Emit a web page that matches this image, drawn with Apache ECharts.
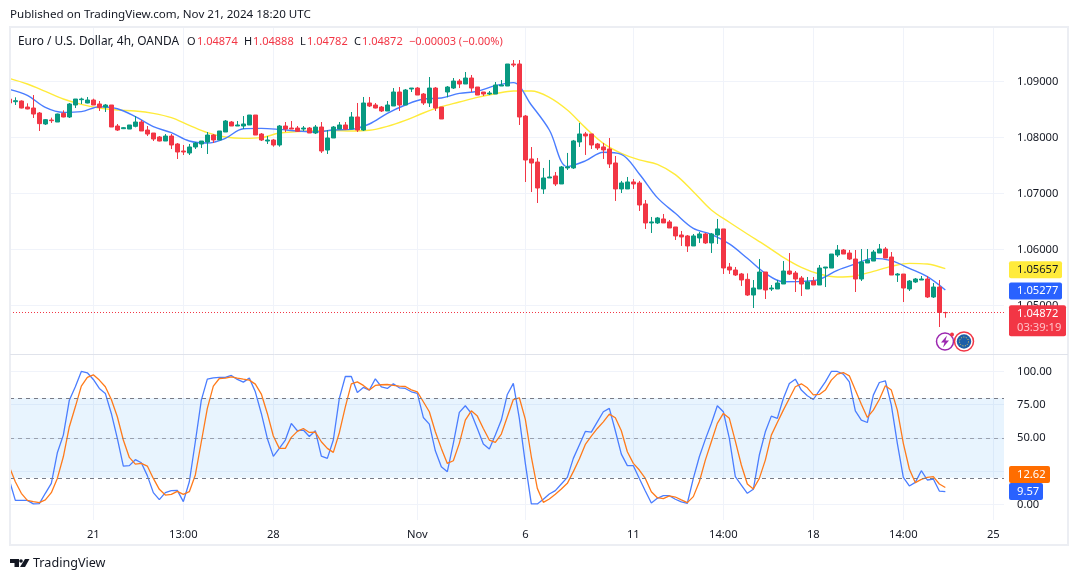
<!DOCTYPE html>
<html>
<head>
<meta charset="utf-8">
<style>html,body{margin:0;padding:0;background:#fff}#chart{width:1080px;height:581px}</style>
<script src="https://cdn.jsdelivr.net/npm/echarts@6/dist/echarts.min.js"></script>
</head>
<body>
<div id="chart"></div>
<script>
// candle index -1 is the one cut off by the left edge of the pane
var firstIndex = -1;
var open = [
1.08687,1.08639,1.08651,1.08544,1.08526,1.08437,1.08241,1.08312,1.08276,1.08431,
1.08366,1.08580,1.08675,1.08616,1.08669,1.08598,1.08544,1.08580,1.08205,1.08157,
1.08151,1.08199,1.08276,1.08133,1.08080,1.08009,1.07937,1.08026,1.07884,1.07759,
1.07723,1.07830,1.07884,1.07919,1.08044,1.07955,1.08098,1.08276,1.08205,1.08205,
1.08223,1.08401,1.08062,1.07937,1.07955,1.07866,1.08205,1.08169,1.08169,1.08151,
1.08169,1.08080,1.08187,1.07776,1.07991,1.08151,1.08223,1.08151,1.08366,1.08133,
1.08616,1.08580,1.08544,1.08473,1.08562,1.08812,1.08580,1.08866,1.08883,1.08776,
1.08616,1.08883,1.08544,1.08812,1.08883,1.09008,1.08955,1.09062,1.08901,1.08812,
1.08776,1.08776,1.08919,1.08919,1.09312,1.09312,1.08383,1.07616,1.07562,1.07081,
1.07277,1.07313,1.07170,1.07456,1.07456,1.07920,1.08063,1.08063,1.07884,1.07831,
1.07795,1.07545,1.07081,1.07081,1.07206,1.07188,1.06813,1.06474,1.06474,1.06545,
1.06492,1.06402,1.06259,1.06242,1.06063,1.06206,1.06277,1.06117,1.06259,1.06367,
1.05688,1.05634,1.05563,1.05467,1.05187,1.05295,1.05598,1.05295,1.05295,1.05384,
1.05616,1.05580,1.05491,1.05295,1.05437,1.05366,1.05669,1.05669,1.05902,1.05991,
1.05937,1.05830,1.05473,1.05759,1.05794,1.05937,1.06009,1.05866,1.05544,1.05562,
1.05295,1.05420,1.05455,1.05473,1.05152,1.05330,1.04874];
var close = [
1.08616,1.08657,1.08526,1.08509,1.08419,1.08247,1.08318,1.08300,1.08419,1.08366,
1.08598,1.08687,1.08687,1.08669,1.08580,1.08538,1.08580,1.08187,1.08133,1.08175,
1.08223,1.08276,1.08116,1.08062,1.07973,1.07937,1.08026,1.07866,1.07741,1.07741,
1.07830,1.07901,1.07937,1.08044,1.07955,1.08116,1.08294,1.08205,1.08223,1.08241,
1.08401,1.08044,1.07955,1.07955,1.07866,1.08205,1.08151,1.08151,1.08110,1.08169,
1.08080,1.08187,1.07759,1.07991,1.08187,1.08223,1.08151,1.08366,1.08133,1.08616,
1.08562,1.08526,1.08473,1.08580,1.08812,1.08580,1.08848,1.08883,1.08758,1.08616,
1.08883,1.08526,1.08330,1.08901,1.09008,1.08955,1.09062,1.08883,1.08758,1.08776,
1.08794,1.08937,1.08937,1.09312,1.09294,1.08366,1.07598,1.07544,1.07098,1.07277,
1.07295,1.07170,1.07474,1.07474,1.07938,1.08063,1.08027,1.07866,1.07813,1.07777,
1.07527,1.07081,1.07188,1.07206,1.07170,1.06795,1.06474,1.06492,1.06563,1.06474,
1.06384,1.06242,1.06224,1.06063,1.06242,1.06277,1.06117,1.06277,1.06367,1.05670,
1.05634,1.05545,1.05456,1.05187,1.05312,1.05598,1.05277,1.05312,1.05402,1.05616,
1.05562,1.05473,1.05384,1.05420,1.05366,1.05669,1.05687,1.05919,1.05991,1.05919,
1.05830,1.05473,1.05777,1.05812,1.05955,1.06009,1.05848,1.05544,1.05562,1.05312,
1.05437,1.05473,1.05473,1.05152,1.05330,1.04875,1.04872];
var low = [
1.08616,1.08580,1.08520,1.08503,1.08348,1.08116,1.08223,1.08259,1.08276,1.08360,
1.08348,1.08526,1.08598,1.08610,1.08580,1.08473,1.08455,1.08187,1.08116,1.08151,
1.08151,1.08181,1.08116,1.08026,1.07937,1.07931,1.07937,1.07794,1.07616,1.07687,
1.07687,1.07794,1.07812,1.07705,1.07901,1.07955,1.08098,1.08205,1.08205,1.08151,
1.08223,1.08044,1.07937,1.07884,1.07836,1.07836,1.08098,1.08151,1.08098,1.08116,
1.08080,1.08062,1.07723,1.07705,1.07991,1.08151,1.08133,1.08151,1.08098,1.08116,
1.08544,1.08520,1.08455,1.08473,1.08562,1.08473,1.08580,1.08812,1.08758,1.08580,
1.08544,1.08473,1.08330,1.08717,1.08866,1.08883,1.08955,1.08812,1.08758,1.08741,
1.08758,1.08776,1.08919,1.08919,1.09258,1.08223,1.07205,1.07026,1.06830,1.06992,
1.07277,1.07134,1.07170,1.07420,1.07438,1.07831,1.07688,1.07795,1.07777,1.07617,
1.07456,1.06867,1.07009,1.07081,1.07081,1.06688,1.06367,1.06295,1.06456,1.06474,
1.06384,1.06170,1.06063,1.05956,1.06063,1.06117,1.06099,1.05938,1.06099,1.05563,
1.05563,1.05527,1.05349,1.05170,1.04955,1.05295,1.05116,1.05259,1.05295,1.05384,
1.05544,1.05241,1.05170,1.05295,1.05366,1.05366,1.05330,1.05669,1.05866,1.05919,
1.05812,1.05241,1.05437,1.05759,1.05794,1.05937,1.05848,1.05544,1.05420,1.05062,
1.05259,1.05402,1.05455,1.05134,1.05134,1.04616,1.04782];
var high = [
1.08687,1.08717,1.08663,1.08610,1.08758,1.08455,1.08330,1.08354,1.08425,1.08485,
1.08616,1.08687,1.08711,1.08723,1.08693,1.08651,1.08598,1.08580,1.08241,1.08187,
1.08223,1.08383,1.08312,1.08205,1.08080,1.08026,1.08062,1.08062,1.07901,1.07866,
1.07884,1.07919,1.07937,1.08098,1.08062,1.08116,1.08312,1.08294,1.08294,1.08383,
1.08401,1.08401,1.08080,1.08026,1.07973,1.08223,1.08276,1.08294,1.08205,1.08205,
1.08187,1.08223,1.08276,1.08133,1.08205,1.08276,1.08276,1.08455,1.08616,1.08723,
1.08723,1.08616,1.08562,1.08651,1.08883,1.08901,1.08866,1.08883,1.08901,1.08794,
1.09080,1.08901,1.08544,1.08919,1.09062,1.09044,1.09169,1.09116,1.08901,1.08812,
1.08830,1.08991,1.09026,1.09312,1.09383,1.09383,1.08401,1.07830,1.07634,1.07456,
1.07599,1.07384,1.07491,1.07724,1.07956,1.08259,1.08099,1.08063,1.07902,1.07902,
1.07991,1.07670,1.07224,1.07295,1.07259,1.07224,1.06884,1.06581,1.06581,1.06634,
1.06527,1.06402,1.06331,1.06259,1.06277,1.06313,1.06295,1.06295,1.06545,1.06367,
1.05759,1.05688,1.05581,1.05574,1.05455,1.05830,1.05598,1.05366,1.05455,1.05794,
1.05937,1.05616,1.05527,1.05509,1.05509,1.05723,1.05687,1.05919,1.06080,1.06009,
1.05991,1.05991,1.06009,1.06009,1.05991,1.06098,1.06044,1.05955,1.05580,1.05562,
1.05455,1.05491,1.05527,1.05527,1.05402,1.05455,1.04888];

var maStep = 3;
var maBlue = [
1.08860,1.08753,1.08538,1.08449,1.08461,1.08550,1.08514,1.08372,1.08193,1.08086,
1.07937,1.07901,1.07985,1.08157,1.08163,1.08145,1.08116,1.08098,1.08133,1.08145,
1.08241,1.08431,1.08580,1.08687,1.08705,1.08788,1.08824,1.08925,1.08979,1.08580,
1.08134,1.07480,1.07581,1.07736,1.07700,1.07349,1.06926,1.06646,1.06378,1.06271,
1.06099,1.05843,1.05575,1.05425,1.05431,1.05467,1.05628,1.05741,1.05842,1.05800,
1.05663,1.05515,1.05277];
var maYellow = [
1.09056,1.08955,1.08824,1.08687,1.08592,1.08526,1.08491,1.08473,1.08431,1.08354,
1.08217,1.08086,1.08009,1.07985,1.07997,1.08080,1.08104,1.08122,1.08122,1.08116,
1.08128,1.08199,1.08306,1.08437,1.08550,1.08633,1.08717,1.08782,1.08830,1.08830,
1.08718,1.08491,1.08176,1.07896,1.07718,1.07599,1.07521,1.07337,1.07033,1.06706,
1.06486,1.06277,1.06074,1.05860,1.05681,1.05562,1.05509,1.05527,1.05610,1.05699,
1.05753,1.05741,1.05657];

var stochK = [
18.3,3.0,3.0,3.0,0.3,0.5,8.3,15.8,38.8,52.1,
78.4,88.5,100,99,94,87.2,83.5,68.4,49.6,28.8,
29.1,33.6,31.3,21.6,8.8,3.5,8.8,10.3,10.5,2.0,
17.0,47.1,78.4,94.2,95.2,95.5,95.5,97,94,92,
95,84.7,68.4,49.6,36.1,42.1,48.4,60.9,55.4,55.9,
51.1,55.4,36.3,34.6,48.4,79.7,96.2,96.2,84.2,88.0,
86,94.5,88.5,87.2,90.7,87.7,87.2,84.7,83.5,65.4,
60.4,40.3,28.3,24.6,45.9,69.2,74.2,68.4,57.1,45.4,
41.6,52.1,63.4,82.7,91,64.7,30.8,0.3,0.3,3.8,
7.8,10.3,15.3,20.3,34.6,44.6,54.9,54.4,62.1,69.7,
72.2,55.4,37.8,29.1,29.1,19.5,10.0,1.0,4.5,6.5,
6.5,3.8,1.8,0.8,19.5,35.8,48.9,60.9,74.2,69.7,
49.6,20.8,14.5,8.3,11.3,37.1,54.6,66.4,64.7,79.7,
91.0,94.2,86.0,81.7,78.9,85.5,92.2,100,100,98,
92.2,70.4,63.4,61.6,82.2,91.7,93.0,74.7,45.9,20.3,
13.8,16.5,25.3,18.3,19.0,10.0,9.57];
var stochD = [
28.3,17.0,8.3,3.0,2.0,1.3,3.3,8.8,19.5,35.8,
58.4,73.4,89.0,95.5,97.5,93.5,88.5,78.9,65.9,48.4,
35.3,30.3,30.8,28.8,19.5,11.3,7.0,7.5,9.8,7.5,
9.5,22.1,47.1,72.2,89.0,94.7,95.0,96.0,95.0,94.2,
93.5,90.5,83.0,68.4,51.4,42.1,42.1,50.4,54.9,57.1,
54.1,54.4,47.1,42.1,39.1,53.9,73.4,90.7,92.2,89.5,
86,89.5,90.0,90.2,89.5,89.0,88.7,86.2,84.7,77.2,
69.7,54.6,42.1,30.8,32.8,45.9,63.4,70.4,66.4,57.1,
48.4,46.6,52.9,65.9,78.9,80.2,63.9,35.8,12.0,1.5,
4.0,7.5,11.5,15.8,24.6,34.1,45.1,51.4,57.1,62.1,
67.9,65.2,55.4,39.6,30.8,25.8,19.5,9.5,5.0,4.3,
6.3,5.5,3.3,1.3,5.8,17.0,33.3,47.1,60.9,68.4,
64.7,47.6,29.6,15.3,11.5,19.5,33.3,52.1,61.6,70.9,
79.7,88.5,90.7,87.7,82.4,82.7,86,93.5,98,99.2,
96.7,86,75.4,65.4,70.9,78.9,89.2,86,70.9,45.9,
26.6,16.3,18.8,20.3,20.8,15.3,12.62];

var dateTicks = [13,28,43,67,85,103,118,133,148,163];
var dateLabels = ['21','13:00','28','Nov','6','11','14:00','18','14:00','25'];
var priceTicks = [1.05,1.06,1.07,1.08,1.09];
var stochTicks = [0,25,50,75,100];
var stochBand = [20,80];
var stochLevels = [20,50,80];

var FONT = '"Noto Sans", sans-serif';
var AXIS_SIZE = 11.2;
var INK = '#131722';
var GRID = '#f0f3fa';
var RED = '#f23645';
var GREEN = '#089981';
var BLUE = '#2962ff';
var LINE_BLUE = '#4a7dff';
var ORANGE = '#ff6d00';
var YELLOW = '#ffeb3b';

// x axis runs in candle numbers, 6px per candle, candle 0 at x=15.33
var xMin = -0.888, xMax = 164.778;

var candles = open.map(function (o, i) {
    return [i + firstIndex, o, close[i], low[i], high[i]];
});
function everyThird(arr) {
    return arr.map(function (v, i) { return [firstIndex + i * maStep, v]; });
}
function everyCandle(arr) {
    return arr.map(function (v, i) { return [firstIndex + i, v]; });
}
function priceTag(value, bg, fg, width) {
    return {
        yAxis: value,
        lineStyle: { color: 'transparent' },
        label: {
            show: true, position: 'end', distance: 5, offset: [0, 1], formatter: value.toFixed(5),
            backgroundColor: bg, color: fg, fontFamily: FONT, fontSize: AXIS_SIZE,
            padding: [3, 5, 3, 8], borderRadius: 2, width: width
        }
    };
}
function stochTag(value, bg, width, shift) {
    return {
        yAxis: value,
        lineStyle: { color: 'transparent' },
        label: {
            show: true, position: 'end', distance: 5, offset: [0, shift], formatter: value.toFixed(2),
            backgroundColor: bg, color: '#fff', fontFamily: FONT, fontSize: AXIS_SIZE,
            padding: [3, 6, 3, 8], borderRadius: 2, width: width
        }
    };
}
function headText(x, y, text, color, size) {
    return { type: 'text', x: x, y: y, silent: true, z: 50,
        style: { text: text, fill: color, font: (size || 11) + 'px ' + FONT, textVerticalAlign: 'middle' } };
}

var xCommon = {
    type: 'value', min: xMin, max: xMax,
    axisLine: { show: false },
    axisTick: { show: false, customValues: dateTicks },
    splitLine: { show: true, lineStyle: { color: GRID, width: 1 } }
};

var lastClose = close[close.length - 1];
var chart = echarts.init(document.getElementById('chart'), null, { renderer: 'canvas' });
chart.setOption({
    animation: false,
    backgroundColor: '#fff',
    grid: [
        { left: 10, width: 994, top: 28, height: 326 },
        { left: 10, width: 994, top: 355, height: 165 }
    ],
    xAxis: [
        Object.assign({ gridIndex: 0, axisLabel: { show: false, customValues: dateTicks } }, xCommon),
        Object.assign({
            gridIndex: 1,
            axisLabel: {
                customValues: dateTicks, color: INK, fontFamily: FONT, fontSize: AXIS_SIZE, margin: 9,
                formatter: function (v) { return dateLabels[dateTicks.indexOf(v)]; }
            }
        }, xCommon)
    ],
    yAxis: [
        {
            type: 'value', gridIndex: 0, position: 'right', min: 1.04134, max: 1.09955, scale: true,
            axisLine: { show: false }, axisTick: { show: false, customValues: priceTicks },
            splitLine: { show: true, lineStyle: { color: GRID } },
            axisLabel: {
                customValues: priceTicks, margin: 13, color: INK, fontFamily: FONT, fontSize: AXIS_SIZE,
                formatter: function (v) { return v.toFixed(5); }
            }
        },
        {
            type: 'value', gridIndex: 1, position: 'right', min: -11.8, max: 112.4,
            axisLine: { show: false }, axisTick: { show: false, customValues: stochTicks },
            splitLine: { show: true, lineStyle: { color: GRID } },
            axisLabel: {
                customValues: stochTicks, margin: 13, color: INK, fontFamily: FONT, fontSize: AXIS_SIZE,
                formatter: function (v) { return v.toFixed(2); }
            }
        }
    ],
    series: [
        {
            type: 'line', name: 'ma slow', xAxisIndex: 0, yAxisIndex: 0, z: 1, silent: true,
            data: everyThird(maYellow), showSymbol: false, smooth: 0.35,
            lineStyle: { color: '#ffeb3b', width: 1.4 },
            markLine: {
                silent: true, symbol: 'none', animation: false, precision: 5,
                data: [priceTag(maYellow[maYellow.length - 1], YELLOW, INK, 40)]
            }
        },
        {
            type: 'line', name: 'ma fast', xAxisIndex: 0, yAxisIndex: 0, z: 1, silent: true,
            data: everyThird(maBlue), showSymbol: false, smooth: 0.35,
            lineStyle: { color: LINE_BLUE, width: 1.4 },
            markLine: {
                silent: true, symbol: 'none', animation: false, precision: 5,
                data: [priceTag(maBlue[maBlue.length - 1], BLUE, '#fff', 40)]
            }
        },
        {
            type: 'candlestick', name: 'EURUSD', xAxisIndex: 0, yAxisIndex: 0, z: 2, silent: true,
            barWidth: 4, data: candles,
            itemStyle: { color: GREEN, color0: RED, borderColor: GREEN, borderColor0: RED, borderWidth: 1 },
            markLine: {
                silent: true, symbol: 'none', animation: false, precision: 5,
                data: [{
                    yAxis: lastClose,
                    lineStyle: { color: RED, type: [1, 2], width: 1 },
                    label: {
                        show: true, position: 'end', distance: 5, offset: [0, 8],
                        formatter: '{a|' + lastClose.toFixed(5) + '}\n{b|03:39:19}',
                        backgroundColor: RED, padding: [2, 6, 2, 8], borderRadius: 2, width: 43,
                        rich: {
                            a: { color: '#fff', fontFamily: FONT, fontSize: AXIS_SIZE, lineHeight: 14 },
                            b: { color: '#ffc2c8', fontFamily: FONT, fontSize: AXIS_SIZE, lineHeight: 13 }
                        }
                    }
                }]
            }
        },
        {
            type: 'line', name: '%K', xAxisIndex: 1, yAxisIndex: 1, z: 3, silent: true,
            data: everyCandle(stochK), showSymbol: false,
            lineStyle: { color: LINE_BLUE, width: 1.3 },
            markArea: {
                silent: true,
                itemStyle: { color: 'rgba(33,150,243,0.1)' },
                data: [[{ yAxis: stochBand[0] }, { yAxis: stochBand[1] }]]
            },
            markLine: {
                silent: true, symbol: 'none', animation: false, precision: 5, z: 6,
                data: [stochTag(stochK[stochK.length - 1], BLUE, 20, 0)]
            }
        },
        {
            type: 'line', name: '%D', xAxisIndex: 1, yAxisIndex: 1, z: 4, silent: true,
            data: everyCandle(stochD), showSymbol: false,
            lineStyle: { color: '#ff7a1a', width: 1.3 },
            markLine: {
                silent: true, symbol: 'none', animation: false, precision: 5,
                data: stochLevels.map(function (v) {
                    return {
                        yAxis: v, label: { show: false },
                        lineStyle: { color: '#787b86', type: [4, 4], width: 1, opacity: v === 50 ? 0.65 : 1 }
                    };
                }).concat([stochTag(stochD[stochD.length - 1], ORANGE, 27, -13)])
            }
        }
    ],
    graphic: [
        // hides the part of the first candle that falls left of the pane
        { type: 'rect', silent: true, z: 39, shape: { x: 0, y: 28, width: 10, height: 327 },
          style: { fill: '#fff' } },
        // outer frame and pane separator
        { type: 'rect', silent: true, z: 40, shape: { x: 10, y: 27, width: 1058, height: 518 },
          style: { fill: 'none', stroke: '#eceef3', lineWidth: 2 } },
        { type: 'line', silent: true, z: 40, shape: { x1: 10, y1: 354.5, x2: 1068, y2: 354.5 },
          style: { stroke: '#e0e3eb', lineWidth: 1 } },
        headText(10, 15, 'Published on TradingView.com, Nov 21, 2024 18:20 UTC', INK, 11.6),
        headText(18, 42, 'Euro / U.S. Dollar, 4h, OANDA', INK, 11.9),
        headText(187, 42, 'O', INK), headText(197, 42, '1.04874', RED),
        headText(244, 42, 'H', INK), headText(253, 42, '1.04888', RED),
        headText(300, 42, 'L', INK), headText(307, 42, '1.04782', RED),
        headText(354, 42, 'C', INK), headText(362, 42, '1.04872', RED),
        headText(409, 42, '\u22120.00003 (\u22120.00%)', RED),
        // event badges under the last candle
        { type: 'circle', silent: true, z: 41, shape: { cx: 945, cy: 341.5, r: 8.5 },
          style: { fill: '#fff', stroke: '#9c27b0', lineWidth: 1.5 } },
        { type: 'polygon', silent: true, z: 42,
          shape: { points: [[947,335.5],[941,342.5],[944.5,342.5],[943,347.5],[949,340.5],[945.5,340.5]] },
          style: { fill: '#9c27b0' } },
        { type: 'circle', silent: true, z: 43, shape: { cx: 964, cy: 341.5, r: 9.5 },
          style: { fill: '#fff', stroke: RED, lineWidth: 1.5 } },
        { type: 'circle', silent: true, z: 44, shape: { cx: 964, cy: 341.5, r: 7.2 },
          style: { fill: '#1c5fa8' } },
        { type: 'circle', silent: true, z: 45, shape: { cx: 964, cy: 341.5, r: 4.5 },
          style: { fill: 'none', stroke: '#ffd54a', lineWidth: 1, lineDash: [1, 1.5] } },
        { type: 'circle', silent: true, z: 45, shape: { cx: 952, cy: 334.5, r: 2 },
          style: { fill: RED } },
        // logo
        { type: 'polygon', silent: true, z: 41,
          shape: { points: [[10,559],[19,559],[19,567],[14.5,567],[14.5,563],[10,563]] }, style: { fill: INK } },
        { type: 'circle', silent: true, z: 41, shape: { cx: 21, cy: 561, r: 1.8 }, style: { fill: INK } },
        { type: 'polygon', silent: true, z: 41,
          shape: { points: [[25,559],[29.5,559],[25,567],[20,567]] }, style: { fill: INK } },
        headText(33, 563.5, 'TradingView', INK, 12.6)
    ]
});
</script>
</body>
</html>
